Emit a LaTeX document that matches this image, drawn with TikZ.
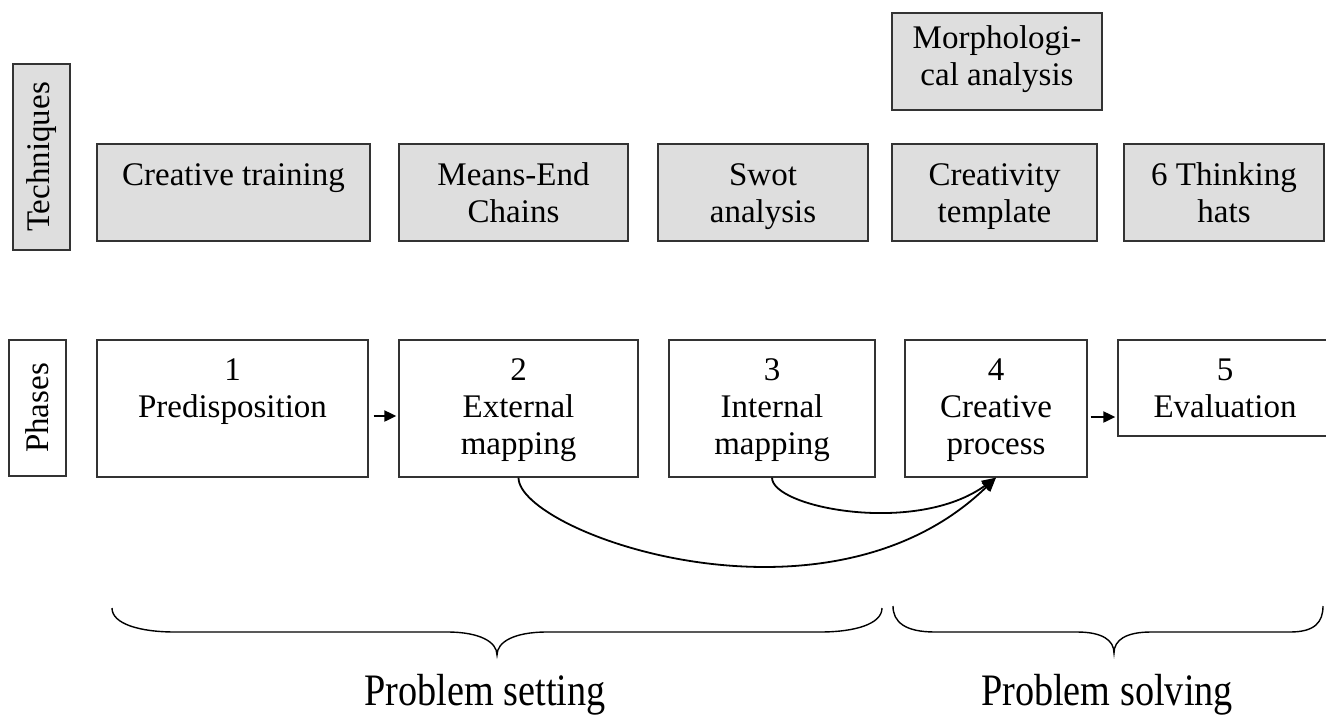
\documentclass[tikz,border=0pt]{standalone}
\usepackage{fontspec}
\setmainfont{Liberation Serif}
\usetikzlibrary{arrows.meta}
\definecolor{techgray}{HTML}{DEDEDE}
\begin{document}
\begin{tikzpicture}[x=1pt,y=-1pt,
  every node/.style={font=\fontsize{33}{37}\selectfont, inner sep=0pt, align=flush center},
  box/.style={draw=black!80, line width=1.3pt},
  tech/.style={box, fill=techgray, text height=41pt, text depth=56pt},
  morph/.style={box, fill=techgray, text height=35pt, text depth=62pt},
  phase/.style={box, fill=white, text height=40pt, text depth=97pt},
  lastphase/.style={box, fill=white, text height=40pt, text depth=56pt},
  rowlabel/.style={box, rotate=90, minimum height=57pt},
  arr/.style={line width=2pt, -{Triangle[length=12pt,width=11pt]}},
  link/.style={line width=1.8pt, -{Triangle[length=14pt,width=12pt]}},
  brace/.style={line width=1.4pt},
  caption/.style={font=\fontsize{45}{50}\selectfont, xscale=0.85, anchor=base}
]
\useasboundingbox (0,0) rectangle (1326,716);

% row labels
\node[rowlabel, fill=techgray, minimum width=186pt] (ltech) at (41.5,157) {Techniques};
\node[rowlabel, fill=white, minimum width=136pt] (lphase) at (37.5,408) {Phases};

% techniques
\node[morph, text width=210pt] (tm) at (997,61.5) {Morphologi-\\cal analysis};
\node[tech, text width=273pt] (t1) at (233.5,192.5) {Creative training};
\node[tech, text width=229pt] (t2) at (513.5,192.5) {Means-End\\Chains};
\node[tech, text width=210pt] (t3) at (763,192.5) {Swot\\analysis};
\node[tech, text width=205pt] (t4) at (994.5,192.5) {Creativity\\template};
\node[tech, text width=200pt] (t5) at (1224,192.5) {6 Thinking\\hats};

% phases
\node[phase, text width=271pt] (p1) at (232.5,408.5) {1\\Predisposition};
\node[phase, text width=239pt] (p2) at (518.5,408.5) {2\\External\\mapping};
\node[phase, text width=206pt] (p3) at (772,408.5) {3\\Internal\\mapping};
\node[phase, text width=182pt] (p4) at (996,408.5) {4\\Creative\\process};
\node[lastphase, text width=214pt] (p5) at (1225,388) {5\\Evaluation};

% sequence arrows
\draw[arr, shorten <=5pt, shorten >=2pt] ([yshift=-7.5pt]p1.east) -- ([yshift=-7.5pt]p2.west);
\coordinate (a45) at ([yshift=-8.5pt]p4.east);
\draw[arr, shorten <=3pt, shorten >=2pt] (a45) -- (a45 -| p5.west);

% feedback links into the creative process
\draw[link] (p2.south) .. controls +(0,55) and +(-170,165) .. (p4.south);
\draw[link] (p3.south) .. controls +(0,30) and +(-80,58) .. (p4.south);

% braces
\draw[brace] (112,608) .. controls (112,624) and (140,632) .. (175,632) -- (447,632)
  .. controls (480,632) and (497,642) .. (497,655)
  .. controls (497,642) and (514,632) .. (547,632) -- (820,632)
  .. controls (855,632) and (882,624) .. (882,608);
\draw[brace] (893,606) .. controls (893,622) and (905,632) .. (935,632) -- (1077,632)
  .. controls (1102,632) and (1114,640) .. (1114,653)
  .. controls (1114,640) and (1126,632) .. (1151,632) -- (1290,632)
  .. controls (1315,632) and (1323,622) .. (1323,606);

% brace captions
\node[caption] (cset) at (485,705) {Problem setting};
\node[caption] (csolve) at (1107,705) {Problem solving};
\end{tikzpicture}
\end{document}
